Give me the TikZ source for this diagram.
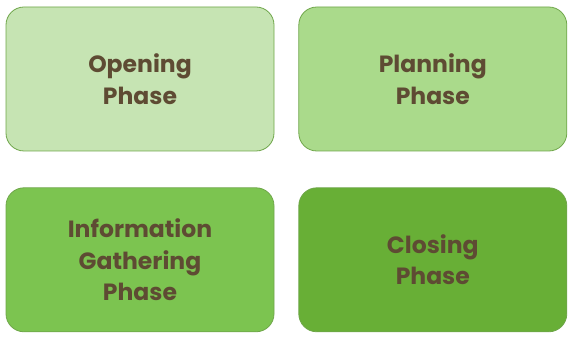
\documentclass[tikz,border=0pt]{standalone}
\usepackage{fontspec}
\setmainfont{Poppins}[BoldFont={* Bold}]
\usetikzlibrary{positioning}
\definecolor{phasetext}{HTML}{5E4B33}
\definecolor{phaseline}{HTML}{6FA64A}
\definecolor{phaseA}{HTML}{C6E4B3}
\definecolor{phaseB}{HTML}{AADA8B}
\definecolor{phaseC}{HTML}{7CC450}
\definecolor{phaseD}{HTML}{68AF36}
\tikzset {
    phase/.style = {
        draw = phaseline,
        line width = 0.8pt,
        shape = rectangle,
        rounded corners = 18pt,
        minimum width = 268pt,
        minimum height = 144pt,
        align = center,
        text = phasetext,
        font = \bfseries\fontsize{23.5}{31.5}\selectfont
    }
}
\begin{document}
\begin{tikzpicture}
        \useasboundingbox (0pt, 0pt) rectangle (573pt, -339pt);
        % Top row : opening, planning
        \node [phase, fill=phaseA] at (140pt, -79pt)            (opening)   {Opening\\Phase};
        \node [phase, fill=phaseB, right=24pt of opening]       (planning)  {Planning\\Phase};

        % Bottom row : information gathering, closing
        \node [phase, fill=phaseC, below=36pt of opening]       (gathering) {Information\\Gathering\\Phase};
        \node [phase, fill=phaseD, right=24pt of gathering]     (closing)   {Closing\\Phase};
\end{tikzpicture}
\end{document}
